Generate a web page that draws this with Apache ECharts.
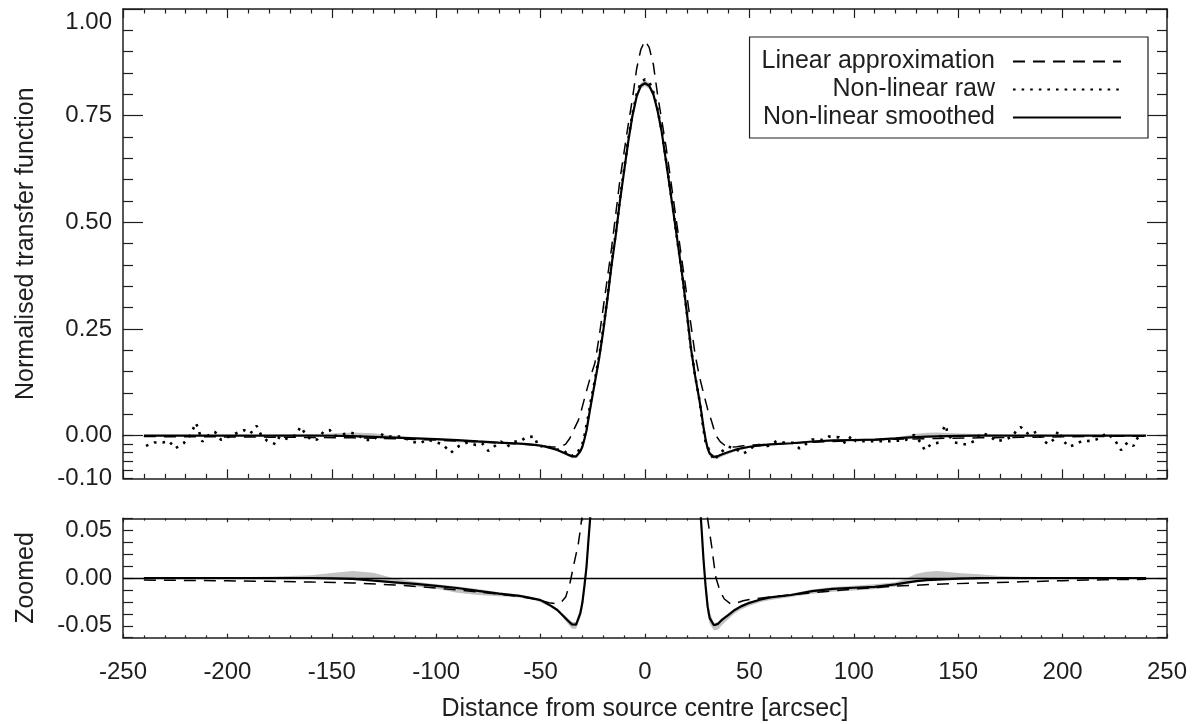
<!DOCTYPE html>
<html>
<head>
<meta charset="utf-8">
<script src="https://cdn.jsdelivr.net/npm/echarts@6/dist/echarts.min.js"></script>
<style>
html,body{margin:0;padding:0;background:#fff;}
#chart{width:1193px;height:724px;}
</style>
</head>
<body>
<div id="chart"></div>
<script>
// ---------------- data ----------------
const legendNames = ['Linear approximation', 'Non-linear raw', 'Non-linear smoothed'];
const xTickLabels = [-250, -200, -150, -100, -50, 0, 50, 100, 150, 200, 250];
const topTickLabels = [0, 0.25, 0.5, 0.75, 1.0];
const zoomTickLabels = [-0.05, 0, 0.05];

// smoothed non-linear transfer function
const xSmooth = [-240,-220,-200,-180,-160,-150,-140,-130,-120,-110,-100,-90,-80,-70,-60,-55,-50,-45,-42,-39,-37,-35,-33,-31,-30,-29,-28,-27,-26,-24,-22,-20,-18,-16,-14,-12,-10,-8,-6,-4,-2,0,2,4,6,8,10,12,14,16,18,20,22,24,26,27,28,29,30,31,33,35,37,40,43,46,50,55,60,70,80,90,100,110,120,125,130,135,140,150,160,170,180,200,220,240];
const ySmooth = [0,0,0,0,0,-0.0003,-0.001,-0.0028,-0.0045,-0.0062,-0.0082,-0.0105,-0.0135,-0.0163,-0.0188,-0.0207,-0.0232,-0.0292,-0.0335,-0.040,-0.0445,-0.0485,-0.0488,-0.037,-0.026,-0.008,0.012,0.042,0.07,0.125,0.18,0.245,0.32,0.40,0.47,0.55,0.62,0.69,0.75,0.795,0.82,0.826,0.82,0.80,0.762,0.712,0.645,0.578,0.51,0.44,0.37,0.29,0.205,0.14,0.085,0.055,0.02,-0.008,-0.03,-0.042,-0.0495,-0.048,-0.0435,-0.0385,-0.0335,-0.0297,-0.026,-0.0228,-0.0203,-0.0178,-0.0138,-0.0113,-0.0102,-0.0092,-0.0066,-0.0048,-0.0033,-0.0022,-0.0016,-0.0006,-0.0002,0,0,0,0,0];

// grey spread band around the smoothed curve (same x grid)
const bandLow = [-0.0005,-0.0005,-0.0005,-0.0005,-0.0008,-0.001,-0.0015,-0.003,-0.006,-0.009,-0.0112,-0.0155,-0.0178,-0.019,-0.0205,-0.022,-0.0255,-0.031,-0.035,-0.0425,-0.048,-0.053,-0.053,-0.042,-0.033,-0.016,0.004,0.034,0.062,0.118,0.173,0.238,0.313,0.393,0.463,0.543,0.613,0.683,0.743,0.788,0.813,0.819,0.813,0.793,0.755,0.705,0.638,0.571,0.503,0.433,0.363,0.283,0.197,0.132,0.077,0.047,0.012,-0.016,-0.038,-0.048,-0.055,-0.054,-0.049,-0.043,-0.037,-0.033,-0.029,-0.0255,-0.023,-0.0198,-0.0165,-0.0145,-0.0132,-0.0118,-0.009,-0.0065,-0.0045,-0.003,-0.002,-0.0012,-0.0006,-0.0003,-0.0002,-0.0002,-0.0002,-0.0002];
const bandHigh = [0.0005,0.0008,0.0008,0.0012,0.0028,0.0052,0.0072,0.0055,-0.0005,-0.004,-0.0065,-0.009,-0.0115,-0.0148,-0.0175,-0.0195,-0.022,-0.028,-0.032,-0.038,-0.042,-0.046,-0.046,-0.032,-0.020,0.0,0.02,0.05,0.078,0.132,0.187,0.252,0.327,0.407,0.477,0.557,0.627,0.697,0.757,0.802,0.827,0.833,0.827,0.807,0.769,0.719,0.652,0.585,0.517,0.447,0.377,0.297,0.213,0.148,0.093,0.063,0.028,0.0,-0.022,-0.036,-0.047,-0.046,-0.042,-0.037,-0.032,-0.028,-0.025,-0.0218,-0.019,-0.0165,-0.012,-0.0095,-0.008,-0.0065,-0.0045,-0.0005,0.0045,0.0065,0.0072,0.0052,0.0038,0.002,0.0012,0.0008,0.0005,0.0002];

// linear approximation
const xLinear = [-240,-220,-200,-180,-160,-140,-120,-100,-80,-60,-50,-46,-42,-40,-38,-36,-34,-32,-31,-30,-28,-26,-24,-22,-20,-18,-16,-14,-12,-10,-8,-6,-4,-2,0,2,4,6,8,10,12,14,16,18,20,22,24,26,28,30,32,33,34,36,38,41,44,47,50,60,80,100,120,140,160,180,200,220,240];
const yLinear = [-0.0022,-0.0025,-0.003,-0.0035,-0.0042,-0.0052,-0.0072,-0.0105,-0.0145,-0.0195,-0.0232,-0.026,-0.027,-0.025,-0.020,-0.006,0.015,0.035,0.05,0.068,0.105,0.14,0.17,0.23,0.30,0.37,0.44,0.52,0.60,0.665,0.73,0.79,0.86,0.905,0.926,0.91,0.87,0.80,0.74,0.68,0.61,0.54,0.47,0.40,0.33,0.26,0.19,0.14,0.10,0.062,0.032,0.015,0.0,-0.014,-0.022,-0.027,-0.026,-0.0238,-0.0225,-0.0199,-0.0155,-0.0115,-0.0085,-0.0065,-0.0052,-0.004,-0.0028,-0.0018,-0.0014];

// raw non-linear transfer function
const xRaw = [-239,-235,-231,-228,-225,-221,-218,-215,-212,-210,-206,-203,-200,-196,-192,-189,-186,-184,-181,-177,-175,-171,-167,-165,-163,-160,-157,-154,-151,-149,-145,-141,-138,-134,-130,-127,-124,-120,-116,-112,-108,-104,-100,-97,-93,-89,-85,-81,-78,-75,-73,-69,-66,-63,-60,-57,-53,-51,-47,-44,-39,-36,-33,-31,-30,-29,-28,-27,-26,-24,-22,-20,-18,-16,-14,-12,-10,-8,-6,-4,-2,0,2,4,6,8,10,12,14,16,18,20,22,24,26,27,28,29,31,33,36,40,43,47,50,53,56,59,63,67,71,74,77,80,85,88,93,96,99,101,104,109,113,117,121,125,129,132,134,137,141,142,144,145,148,151,154,158,161,165,168,172,176,178,180,184,188,190,193,196,198,200,203,206,209,214,218,221,225,227,228,231,234,235,238];
const yRaw = [-0.024,-0.016,-0.016,-0.0125,-0.030,-0.018,0.0,0.030,-0.014,-0.002,0.009,-0.010,-0.004,0.005,0.013,0.005,0.023,0.003,-0.012,-0.020,-0.002,-0.008,0.002,0.021,0.007,-0.010,-0.009,0.009,0.013,-0.001,0.003,0.007,0.003,-0.010,-0.010,0.005,-0.002,-0.002,-0.002,-0.014,-0.018,-0.009,-0.016,-0.020,-0.040,-0.024,-0.016,-0.022,-0.018,-0.036,-0.028,-0.014,-0.026,-0.014,-0.014,-0.004,-0.002,-0.026,-0.023,-0.032,-0.034,-0.049,-0.043,-0.03,-0.02,0.0,0.025,0.05,0.08,0.13,0.185,0.25,0.325,0.405,0.475,0.555,0.625,0.695,0.755,0.80,0.828,0.835,0.83,0.805,0.765,0.715,0.648,0.58,0.51,0.44,0.37,0.29,0.205,0.14,0.085,0.05,0.015,-0.015,-0.037,-0.058,-0.040,-0.026,-0.030,-0.042,-0.034,-0.020,-0.024,-0.024,-0.013,-0.017,-0.017,-0.030,-0.020,-0.009,-0.010,-0.002,-0.004,-0.018,0.0,-0.013,-0.013,-0.013,-0.013,-0.013,-0.012,-0.010,0.002,-0.016,-0.034,-0.020,-0.016,0.008,0.025,0.004,-0.016,-0.018,-0.021,-0.012,0.006,0.0,-0.013,-0.010,-0.002,0.013,0.020,0.002,0.010,-0.008,-0.020,-0.008,0.012,-0.010,-0.026,-0.021,-0.013,-0.012,-0.006,0.006,-0.010,-0.026,-0.034,-0.016,-0.024,-0.010,0.004];

// ---------------- chart ----------------
const FONT = '"Liberation Sans", Arial, Helvetica, sans-serif';
const INK = '#1e1e1e';
const zip = (xs, ys) => xs.map((x, i) => [x, ys[i]]);
const near = (v, list) => list.some(t => Math.abs(v - t) < 1e-6);

const L = 123, W = 1044;
const chart = echarts.init(document.getElementById('chart'), null, {renderer: 'canvas'});

const axisLine = {show: true, onZero: false, lineStyle: {color: INK, width: 1.5}};
const labelStyle = {color: INK, fontSize: 24, fontFamily: FONT};

function frameX(grid, pos, major, minor, labels) {
  return {
    type: 'value', gridIndex: grid, position: pos, min: -250, max: 250, interval: 50,
    axisLine: axisLine,
    axisTick: {show: true, inside: true, length: major, lineStyle: {color: INK, width: 1.2}},
    minorTick: {show: true, splitNumber: 5, length: minor, lineStyle: {color: INK, width: 1.2}},
    axisLabel: labels ? Object.assign({show: true, margin: 23, formatter: v => near(v, xTickLabels) ? String(Math.round(v)) : ''}, labelStyle) : {show: false},
    splitLine: {show: false}
  };
}

// grey band drawn as one polygon through the axes' own coordinate mapping
function bandSeries(xi, yi) {
  return {
    type: 'custom', name: 'band', xAxisIndex: xi, yAxisIndex: yi, data: [[0, 0]], silent: true, z: 1,
    renderItem: (params, api) => {
      const pts = [];
      xSmooth.forEach((x, i) => pts.push(api.coord([x, bandHigh[i]])));
      for (let i = xSmooth.length - 1; i >= 0; i--) pts.push(api.coord([xSmooth[i], bandLow[i]]));
      const cs = params.coordSys;
      return {
        type: 'polygon', shape: {points: pts}, style: {fill: '#c2c2c2', stroke: null},
        clipPath: {type: 'rect', shape: {x: cs.x, y: cs.y, width: cs.width, height: cs.height}}
      };
    }
  };
}

const dashed = {color: '#000', width: 1.5, type: [12, 8]};
const dotted = {color: '#000', width: 2.6, type: [2.6, 6]};
const solid = {color: '#000', width: 2.2, type: 'solid'};

const option = {
  animation: false,
  backgroundColor: '#fff',
  textStyle: {fontFamily: FONT},
  grid: [
    {left: L, top: 9, width: W, height: 469.3, containLabel: false, outerBoundsMode: 'none'},
    {left: L, top: 9, width: W, height: 426.7, containLabel: false, outerBoundsMode: 'none'},
    {left: L, top: 435.7, width: W, height: 42.6, containLabel: false, outerBoundsMode: 'none'},
    {left: L, top: 518.3, width: W, height: 119.4, containLabel: false, outerBoundsMode: 'none'}
  ],
  xAxis: [
    {type: 'value', gridIndex: 0, min: -250, max: 250, show: false},
    frameX(1, 'top', 9, 4.5, false),
    frameX(2, 'bottom', 9, 4.5, false),
    Object.assign(frameX(3, 'bottom', 4, 2.3, true), {
      name: 'Distance from source centre [arcsec]', nameLocation: 'middle', nameGap: 59,
      nameTextStyle: {color: INK, fontSize: 25, fontFamily: FONT}
    }),
    frameX(3, 'top', 4, 2.3, false)
  ],
  yAxis: [
    {type: 'value', gridIndex: 0, min: -0.1, max: 1.0, show: true,
     axisLine: {show: false}, axisTick: {show: false}, axisLabel: {show: false}, splitLine: {show: false},
     name: 'Normalised transfer function', nameLocation: 'middle', nameGap: 84,
     nameTextStyle: {color: INK, fontSize: 25, fontFamily: FONT}},
    {type: 'value', gridIndex: 1, position: 'left', min: 0, max: 1, interval: 0.25,
     axisLine: axisLine,
     axisTick: {show: true, inside: true, length: 20, lineStyle: {color: INK, width: 1.2}},
     minorTick: {show: true, splitNumber: 5, length: 10, lineStyle: {color: INK, width: 1.2}},
     axisLabel: Object.assign({show: true, margin: 11,
       formatter: v => near(v, topTickLabels) ? (near(v, [1]) ? '{top|' + v.toFixed(2) + '}' : v.toFixed(2)) : '',
       rich: {top: {fontSize: 24, color: INK, fontFamily: FONT, padding: [26, 0, 0, 0]}}}, labelStyle),
     splitLine: {show: false}},
    {type: 'value', gridIndex: 1, position: 'right', min: 0, max: 1, interval: 0.25,
     axisLine: axisLine,
     axisTick: {show: true, inside: true, length: 20, lineStyle: {color: INK, width: 1.2}},
     minorTick: {show: true, splitNumber: 5, length: 10, lineStyle: {color: INK, width: 1.2}},
     axisLabel: {show: false}, splitLine: {show: false}},
    {type: 'value', gridIndex: 2, position: 'left', min: -0.1, max: 0, interval: 0.02,
     axisLine: axisLine,
     axisTick: {show: true, inside: true, length: 10, lineStyle: {color: INK, width: 1.2}},
     axisLabel: Object.assign({show: true, margin: 11, formatter: v => near(v, [-0.1]) ? v.toFixed(2) : ''}, labelStyle),
     splitLine: {show: false}},
    {type: 'value', gridIndex: 2, position: 'right', min: -0.1, max: 0, interval: 0.02,
     axisLine: axisLine,
     axisTick: {show: true, inside: true, length: 10, lineStyle: {color: INK, width: 1.2}},
     axisLabel: {show: false}, splitLine: {show: false}},
    {type: 'value', gridIndex: 3, position: 'left', min: -0.0625, max: 0.0625, interval: 0.0125,
     axisLine: axisLine,
     axisTick: {show: true, inside: true, length: 10, lineStyle: {color: INK, width: 1.2}},
     axisLabel: Object.assign({show: true, margin: 11, formatter: v => near(v, zoomTickLabels) ? (Math.abs(v) < 1e-9 ? '0.00' : v.toFixed(2)) : ''}, labelStyle),
     splitLine: {show: false},
     name: 'Zoomed', nameLocation: 'middle', nameGap: 84,
     nameTextStyle: {color: INK, fontSize: 25, fontFamily: FONT}},
    {type: 'value', gridIndex: 3, position: 'right', min: -0.0625, max: 0.0625, interval: 0.0125,
     axisLine: axisLine,
     axisTick: {show: true, inside: true, length: 10, lineStyle: {color: INK, width: 1.2}},
     axisLabel: {show: false}, splitLine: {show: false}}
  ],
  legend: {
    data: legendNames, orient: 'vertical', align: 'right', right: 45, top: 37,
    padding: [12, 26, 8, 12], itemGap: 3, itemWidth: 108, itemHeight: 14,
    borderColor: INK, borderWidth: 1.2, borderRadius: 0, backgroundColor: '#fff',
    selectedMode: false,
    itemStyle: {opacity: 0, borderWidth: 0},
    textStyle: {color: INK, fontSize: 25, fontFamily: FONT, padding: [0, 13, 0, 0]}
  },
  series: [
    bandSeries(0, 0),
    {type: 'line', name: legendNames[0], xAxisIndex: 0, yAxisIndex: 0, data: zip(xLinear, yLinear), symbol: 'none', lineStyle: dashed, z: 3},
    {type: 'line', name: legendNames[1], xAxisIndex: 0, yAxisIndex: 0, data: zip(xRaw, yRaw), symbol: 'none', lineStyle: dotted, z: 4},
    {type: 'line', name: legendNames[2], xAxisIndex: 0, yAxisIndex: 0, data: zip(xSmooth, ySmooth), symbol: 'none', lineStyle: solid, z: 5},
    bandSeries(3, 5),
    {type: 'line', name: legendNames[0], xAxisIndex: 3, yAxisIndex: 5, data: zip(xLinear, yLinear), symbol: 'none', lineStyle: dashed, z: 3},
    {type: 'line', name: legendNames[2], xAxisIndex: 3, yAxisIndex: 5, data: zip(xSmooth, ySmooth), symbol: 'none', lineStyle: solid, z: 5,
     markLine: {silent: true, symbol: ['none', 'none'], label: {show: false}, animation: false,
       lineStyle: {color: '#000', width: 1.3, type: 'solid'}, data: [{yAxis: 0}]}}
  ]
};
chart.setOption(option);
</script>
</body>
</html>
